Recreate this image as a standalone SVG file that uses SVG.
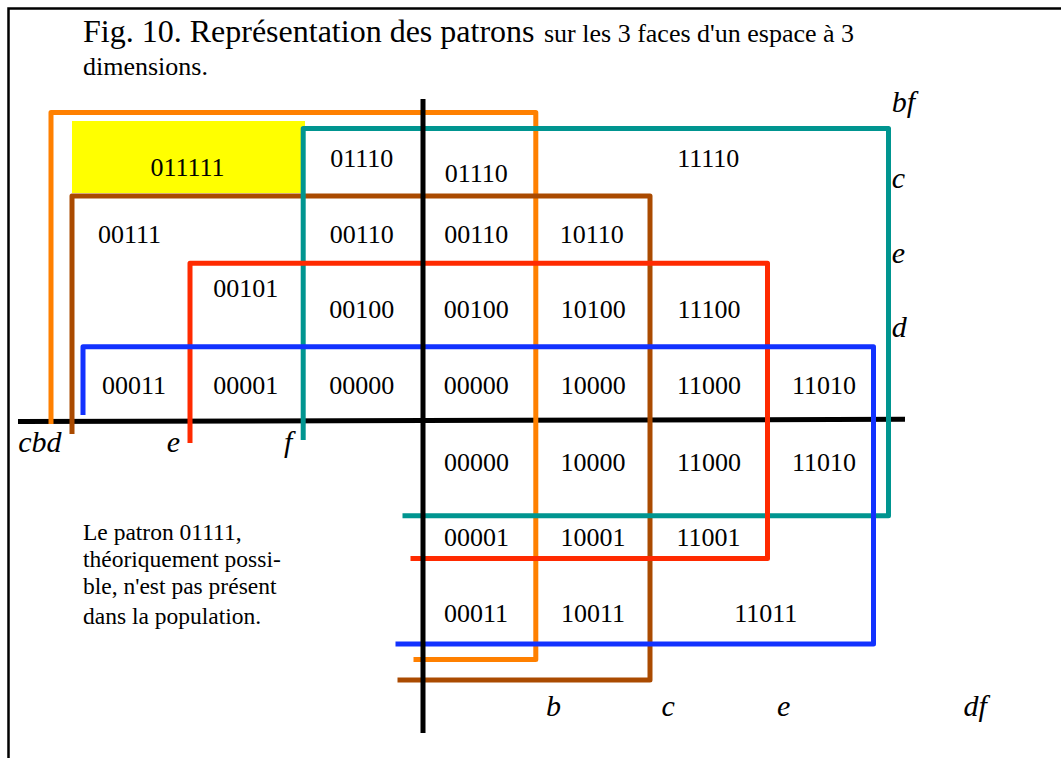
<svg xmlns="http://www.w3.org/2000/svg" width="1061" height="758" viewBox="0 0 1061 758">
<style>
  text { font-family: "Liberation Serif", "Times New Roman", serif; fill: #000; }
  .num { font-size: 26px; text-anchor: middle; }
  .lab { font-size: 30px; font-style: italic; }
  .t1 { font-size: 32px; }
  .t2 { font-size: 26px; }
  .note { font-size: 23.5px; }
  .ln { fill: none; stroke-width: 5; stroke-linejoin: round; stroke-linecap: butt; }
  .axis { stroke: #000; stroke-width: 5; fill: none; }
</style>
<rect width="1061" height="758" fill="#fff"/>
<rect id="frame" x="8.5" y="8.5" width="1100" height="800" fill="none" stroke="#000" stroke-width="2.5"/>
<g id="title">
  <text class="t1" x="83" y="41.7">Fig. 10. Représentation des patrons</text>
  <text class="t2" x="544" y="41.7">sur les 3 faces d'un espace à 3</text>
  <text class="t2" x="83" y="75">dimensions.</text>
</g>
<rect id="missing-pattern" x="72" y="121" width="233" height="72" fill="#FFFF00"/>
<g id="connectors">
  <line class="axis" x1="18" y1="421.6" x2="905" y2="419.3"/>
  <path id="orange" class="ln" stroke="#FF8000" d="M51,424 V112.5 H535.8 V659.5 H413.5"/>
  <path id="brown" class="ln" stroke="#AA4A00" d="M72,434 V196 H650 V680 H397.5"/>
  <path id="teal" class="ln" stroke="#009590" d="M303.2,440 V128.5 H888.5 V515.7 H402.5"/>
  <path id="red" class="ln" stroke="#FF2A00" d="M190,443 V263.3 H767.5 V558.5 H410.5"/>
  <path id="blue" class="ln" stroke="#1232FF" d="M83,415 V346.7 H873.5 V644 H395.5"/>
  <line class="axis" x1="423" y1="99" x2="423" y2="733"/>
</g>
<g id="cells">
  <text class="num" x="187.5" y="176">011111</text>
  <text class="num" x="361.7" y="166.7">01110</text>
  <text class="num" x="476.3" y="181.7">01110</text>
  <text class="num" x="708.3" y="167.3">11110</text>
  <text class="num" x="129.5" y="243.3">00111</text>
  <text class="num" x="361.7" y="243.3">00110</text>
  <text class="num" x="476.3" y="243.3">00110</text>
  <text class="num" x="591.7" y="243.3">10110</text>
  <text class="num" x="245.8" y="296.7">00101</text>
  <text class="num" x="361.7" y="318.3">00100</text>
  <text class="num" x="476.3" y="318.3">00100</text>
  <text class="num" x="593.3" y="318.3">10100</text>
  <text class="num" x="709" y="318.3">11100</text>
  <text class="num" x="134" y="394.3">00011</text>
  <text class="num" x="245.8" y="394.3">00001</text>
  <text class="num" x="361.7" y="394.3">00000</text>
  <text class="num" x="476.3" y="394.3">00000</text>
  <text class="num" x="593.3" y="394.3">10000</text>
  <text class="num" x="709" y="394.3">11000</text>
  <text class="num" x="824" y="394.3">11010</text>
  <text class="num" x="476.5" y="470.7">00000</text>
  <text class="num" x="593" y="470.7">10000</text>
  <text class="num" x="709" y="470.7">11000</text>
  <text class="num" x="824" y="470.7">11010</text>
  <text class="num" x="476.5" y="545.7">00001</text>
  <text class="num" x="593" y="545.7">10001</text>
  <text class="num" x="708.5" y="545.7">11001</text>
  <text class="num" x="476" y="621.7">00011</text>
  <text class="num" x="593" y="621.7">10011</text>
  <text class="num" x="765.7" y="621.7">11011</text>
</g>
<g id="axis-labels">
  <text class="lab" x="18.3" y="451.7">cbd</text>
  <text class="lab" x="166.7" y="451.7">e</text>
  <text class="lab" x="284" y="451.7">f</text>
  <text class="lab" x="891.7" y="112">bf</text>
  <text class="lab" x="891.7" y="187.5">c</text>
  <text class="lab" x="891.7" y="263">e</text>
  <text class="lab" x="891.7" y="337">d</text>
  <text class="lab" x="546" y="716">b</text>
  <text class="lab" x="661.5" y="716">c</text>
  <text class="lab" x="777" y="716">e</text>
  <text class="lab" x="963.5" y="716">df</text>
</g>
<g id="note">
  <text class="note" x="83" y="540">Le patron 01111,</text>
  <text class="note" x="83" y="566.7">théoriquement possi-</text>
  <text class="note" x="83" y="594.3">ble, n'est pas présent</text>
  <text class="note" x="83" y="624.3">dans la population.</text>
</g>
</svg>
